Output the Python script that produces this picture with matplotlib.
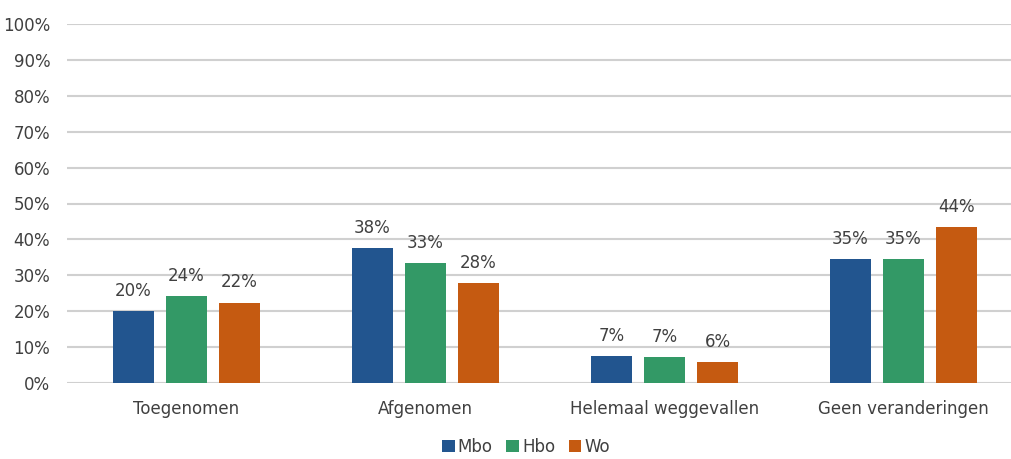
import numpy as np
import matplotlib.pyplot as plt
from matplotlib.ticker import FuncFormatter

categories = ['Toegenomen', 'Afgenomen', 'Helemaal weggevallen', 'Geen veranderingen']
series = ['Mbo', 'Hbo', 'Wo']
mbo = [20.0, 37.7, 7.4, 34.6]
hbo = [24.3, 33.4, 7.3, 34.6]
wo = [22.4, 27.9, 5.9, 43.5]
labels_mbo = ['20%', '38%', '7%', '35%']
labels_hbo = ['24%', '33%', '7%', '35%']
labels_wo = ['22%', '28%', '6%', '44%']

colors = ['#22558F', '#339966', '#C55A11']
text_color = '#404040'

plt.rcParams['font.family'] = ['DejaVu Sans']

fig = plt.figure(figsize=(10.11, 4.59), dpi=100)
ax = fig.add_axes([67 / 1011, 1 - 383 / 459, 1 - 67 / 1011, (383 - 24) / 459])

x = np.arange(len(categories))
width = 0.172
step = 0.222

for i, (vals, labs, name) in enumerate(zip([mbo, hbo, wo],
                                            [labels_mbo, labels_hbo, labels_wo],
                                            series)):
    pos = x + (i - 1) * step
    bars = ax.bar(pos, vals, width, color=colors[i], label=name, zorder=3)
    for b, lab in zip(bars, labs):
        ax.annotate(lab, (b.get_x() + b.get_width() / 2, b.get_height()),
                    xytext=(0, 8), textcoords='offset points',
                    ha='center', va='bottom', fontsize=12, color=text_color)

ax.set_xlim(-0.5, -0.5 + (1011 - 67) / 239)
ax.set_ylim(0, 100)
ax.set_yticks(range(0, 101, 10))
ax.yaxis.set_major_formatter(FuncFormatter(lambda v, p: f'{int(v)}%'))
ax.set_xticks(x)
ax.set_xticklabels(categories)

ax.grid(axis='y', color='#D0D0D0', linewidth=1.5, zorder=0)
for s in ax.spines.values():
    s.set_visible(False)
ax.tick_params(axis='both', length=0, labelsize=12, colors=text_color)
ax.tick_params(axis='y', pad=12)
ax.tick_params(axis='x', pad=12)

leg = ax.legend(loc='lower center', ncol=3, frameon=False, fontsize=12,
                handlelength=0.75, handleheight=0.75, handletextpad=0.2,
                columnspacing=0.8, borderaxespad=0.0, borderpad=0.2)
leg.set_bbox_to_anchor((526 / 1011, 0.0), transform=fig.transFigure)
for t in leg.get_texts():
    t.set_color(text_color)

fig.savefig('out.png', dpi=100)
